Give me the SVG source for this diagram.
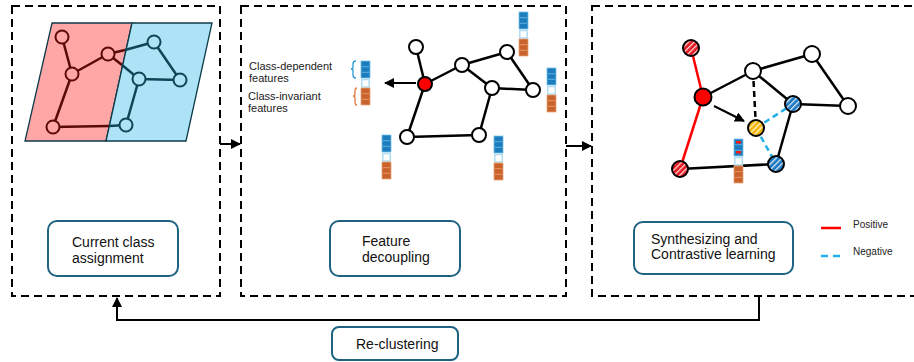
<svg xmlns="http://www.w3.org/2000/svg" width="914" height="362" viewBox="0 0 914 362">
<style>
.panel{fill:none;stroke:#000;stroke-width:2;stroke-dasharray:8 5}
.tbox{fill:#fff;stroke:#1f6282;stroke-width:2}
.lbl{font-family:"Liberation Sans",Arial,sans-serif;font-size:14px;fill:#111}
.small{font-family:"Liberation Sans",Arial,sans-serif;font-size:11px;fill:#222}
.leg{font-family:"Liberation Sans",Arial,sans-serif;font-size:10px;fill:#222}
.edge{stroke:#000;stroke-width:2.5;fill:none}
.wnode{fill:#fff;stroke:#000;stroke-width:2}
.rline{stroke:#5a0a0a;stroke-width:2.5;fill:none}
.bline{stroke:#0e4656;stroke-width:2.5;fill:none}
.rnode{fill:#ffa6a6;stroke:#5a0a0a;stroke-width:2}
.bnode{fill:#ade3f6;stroke:#0e4656;stroke-width:2}
.conn{stroke:#000;stroke-width:2;fill:none}
</style>
<defs>
<marker id="ah" viewBox="0 0 10 10" refX="9" refY="5" markerWidth="5" markerHeight="5" orient="auto-start-reverse">
<path d="M0,0 L10,5 L0,10 z" fill="#000"/>
</marker>
<pattern id="hr" patternUnits="userSpaceOnUse" width="4" height="4" patternTransform="rotate(45)">
<rect width="4" height="4" fill="#e8141c"/><rect width="1.3" height="4" fill="#fff" opacity="0.85"/>
</pattern>
<pattern id="hb" patternUnits="userSpaceOnUse" width="4" height="4" patternTransform="rotate(45)">
<rect width="4" height="4" fill="#1b76c0"/><rect width="1.3" height="4" fill="#fff" opacity="0.85"/>
</pattern>
<pattern id="hy" patternUnits="userSpaceOnUse" width="4" height="4" patternTransform="rotate(45)">
<rect width="4" height="4" fill="#f4b400"/><rect width="1.3" height="4" fill="#fff" opacity="0.85"/>
</pattern>
<g id="vec">
<rect x="0" y="0" width="9" height="17" fill="#1b7dbd" stroke="#79c2e8" stroke-width="0.8"/>
<line x1="1" y1="5.7" x2="8" y2="5.7" stroke="#5fb0e0" stroke-width="1"/>
<line x1="1" y1="11.3" x2="8" y2="11.3" stroke="#5fb0e0" stroke-width="1"/>
<rect x="0.8" y="18.5" width="7.4" height="7.5" fill="#fff" stroke="#b5def3" stroke-width="1.6"/>
<rect x="0" y="27" width="9" height="17" fill="#c9622b" stroke="#e9a77c" stroke-width="0.8"/>
<line x1="1" y1="32.7" x2="8" y2="32.7" stroke="#e6986a" stroke-width="1"/>
<line x1="1" y1="38.3" x2="8" y2="38.3" stroke="#e6986a" stroke-width="1"/>
</g>
</defs>
<rect width="914" height="362" fill="#fff"/>

<g id="panel-1">
<rect class="panel" x="12" y="6" width="208" height="290"/>
<polygon points="52,23 132,23 106,141 25,141" fill="#ffa6a6" stroke="#0e3a4a" stroke-width="1.3"/>
<polygon points="132,23 212,23 186,141 106,141" fill="#ade3f6" stroke="#0e3a4a" stroke-width="1.3"/>
<line class="rline" x1="62" y1="37" x2="72" y2="74"/>
<line class="rline" x1="72" y1="74" x2="108" y2="54"/>
<line class="rline" x1="72" y1="74" x2="53" y2="127"/>
<line class="rline" x1="53" y1="127" x2="109" y2="126"/>
<line class="bline" x1="109" y1="126" x2="126" y2="125"/>
<line class="rline" x1="108" y1="54" x2="125" y2="50"/>
<line class="bline" x1="125" y1="50" x2="154" y2="42"/>
<line class="rline" x1="108" y1="54" x2="122" y2="65"/>
<line class="bline" x1="122" y1="65" x2="139" y2="79"/>
<line class="bline" x1="154" y1="42" x2="180" y2="80"/>
<line class="bline" x1="139" y1="79" x2="180" y2="80"/>
<line class="bline" x1="139" y1="79" x2="126" y2="125"/>
<circle class="rnode" cx="62" cy="37" r="6.5"/>
<circle class="rnode" cx="108" cy="54" r="6.5"/>
<circle class="rnode" cx="72" cy="74" r="6.5"/>
<circle class="rnode" cx="53" cy="127" r="6.5"/>
<circle class="bnode" cx="154" cy="42" r="6.5"/>
<circle class="bnode" cx="139" cy="79" r="6.5"/>
<circle class="bnode" cx="180" cy="80" r="6.5"/>
<circle class="bnode" cx="126" cy="125" r="6.5"/>
</g>
<g id="box-current">
<rect class="tbox" x="48" y="221" width="130" height="55" rx="9"/>
<text class="lbl" x="72" y="247">Current class</text>
<text class="lbl" x="72" y="263">assignment</text>
</g>

<g id="panel-2">
<rect class="panel" x="241" y="6" width="325" height="290"/>
<line class="edge" x1="416" y1="47" x2="425" y2="84"/>
<line class="edge" x1="425" y1="84" x2="462" y2="65"/>
<line class="edge" x1="462" y1="65" x2="507" y2="52"/>
<line class="edge" x1="507" y1="52" x2="533" y2="90"/>
<line class="edge" x1="462" y1="65" x2="492" y2="88"/>
<line class="edge" x1="492" y1="88" x2="533" y2="90"/>
<line class="edge" x1="492" y1="88" x2="479" y2="135"/>
<line class="edge" x1="425" y1="84" x2="407" y2="137"/>
<line class="edge" x1="407" y1="137" x2="479" y2="135"/>
<line class="conn" x1="416" y1="83" x2="385" y2="83" marker-end="url(#ah)"/>
<circle class="wnode" cx="416" cy="47" r="7"/>
<circle cx="425" cy="84" r="7" fill="#ff0000" stroke="#000" stroke-width="2"/>
<circle class="wnode" cx="462" cy="65" r="7"/>
<circle class="wnode" cx="507" cy="52" r="7"/>
<circle class="wnode" cx="492" cy="88" r="7"/>
<circle class="wnode" cx="533" cy="90" r="7"/>
<circle class="wnode" cx="407" cy="137" r="7"/>
<circle class="wnode" cx="479" cy="135" r="7"/>
<use href="#vec" x="361" y="61"/>
<use href="#vec" x="519" y="12"/>
<use href="#vec" x="547" y="68"/>
<use href="#vec" x="382" y="135"/>
<use href="#vec" x="494" y="136"/>
<path d="M356,61 Q353,61 353,64 L353,67 Q353,69 351,69 Q353,69 353,71 L353,75 Q353,78 356,78" fill="none" stroke="#2a9ad6" stroke-width="1.3"/>
<path d="M357,88 Q355,88 355,91 L355,94 Q355,96 353,96 Q355,96 355,98 L355,102 Q355,105 357,105" fill="none" stroke="#e07a3c" stroke-width="1.3"/>
<text class="small" x="249" y="70">Class-dependent</text>
<text class="small" x="249" y="82">features</text>
<text class="small" x="248" y="100">Class-invariant</text>
<text class="small" x="248" y="112">features</text>
</g>
<g id="box-feature">
<rect class="tbox" x="330" y="221" width="130" height="55" rx="9"/>
<text class="lbl" x="362" y="246">Feature</text>
<text class="lbl" x="362" y="262">decoupling</text>
</g>

<g id="panel-3">
<rect class="panel" x="592" y="6" width="330" height="290"/>
<line x1="691" y1="48" x2="703" y2="97" stroke="#ff0000" stroke-width="2.5"/>
<line x1="703" y1="97" x2="680" y2="169" stroke="#ff0000" stroke-width="2.5"/>
<line class="edge" x1="703" y1="97" x2="753" y2="71"/>
<line class="edge" x1="753" y1="71" x2="812" y2="54"/>
<line class="edge" x1="812" y1="54" x2="848" y2="106"/>
<line class="edge" x1="753" y1="71" x2="793" y2="104"/>
<line class="edge" x1="793" y1="104" x2="848" y2="106"/>
<line class="edge" x1="793" y1="104" x2="776" y2="164"/>
<line class="edge" x1="680" y1="169" x2="776" y2="164"/>
<line x1="753" y1="71" x2="756" y2="128" stroke="#000" stroke-width="2.5" stroke-dasharray="6 4"/>
<line x1="756" y1="128" x2="793" y2="104" stroke="#1fb0e8" stroke-width="2.5" stroke-dasharray="6 4"/>
<line x1="756" y1="128" x2="776" y2="164" stroke="#1fb0e8" stroke-width="2.5" stroke-dasharray="6 4"/>
<line class="conn" x1="714" y1="106" x2="744" y2="121" marker-end="url(#ah)"/>
<use href="#vec" x="734" y="139"/>
<rect x="736" y="141" width="5" height="2.5" fill="#ff1a1a"/>
<rect x="736" y="151" width="5" height="2.5" fill="#ff1a1a"/>
<circle cx="691" cy="48" r="8" fill="url(#hr)" stroke="#000" stroke-width="2"/>
<circle cx="703" cy="97" r="8.5" fill="#ff0000" stroke="#000" stroke-width="2"/>
<circle class="wnode" cx="753" cy="71" r="8"/>
<circle class="wnode" cx="812" cy="54" r="8"/>
<circle class="wnode" cx="848" cy="106" r="8"/>
<circle cx="793" cy="104" r="8" fill="url(#hb)" stroke="#000" stroke-width="2"/>
<circle cx="756" cy="128" r="8" fill="url(#hy)" stroke="#000" stroke-width="2"/>
<circle cx="680" cy="169" r="8" fill="url(#hr)" stroke="#000" stroke-width="2"/>
<circle cx="776" cy="164" r="8" fill="url(#hb)" stroke="#000" stroke-width="2"/>
<line x1="821" y1="228" x2="841" y2="228" stroke="#ff0000" stroke-width="2.5"/>
<text class="leg" x="853" y="228">Positive</text>
<line x1="821" y1="256" x2="841" y2="256" stroke="#1fb0e8" stroke-width="2.5" stroke-dasharray="7 5"/>
<text class="leg" x="853" y="255">Negative</text>
</g>
<g id="box-synth">
<rect class="tbox" x="634" y="222" width="159" height="52" rx="9"/>
<text class="lbl" x="651" y="244">Synthesizing and</text>
<text class="lbl" x="651" y="259">Contrastive learning</text>
</g>

<g id="box-recluster">
<rect class="tbox" x="332" y="327" width="126" height="33" rx="7"/>
<text class="lbl" x="356" y="349">Re-clustering</text>
</g>

<g id="connectors">
<line class="conn" x1="220" y1="144" x2="240" y2="144" marker-end="url(#ah)"/>
<line class="conn" x1="566" y1="146" x2="591" y2="146" marker-end="url(#ah)"/>
<polyline class="conn" points="759,296 759,320 117,320 117,298" marker-end="url(#ah)"/>
</g>
</svg>
